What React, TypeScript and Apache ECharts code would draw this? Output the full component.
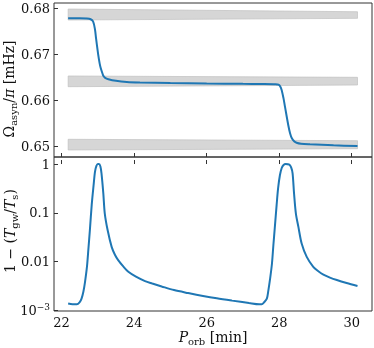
import React, { useEffect, useRef } from 'react';
import * as echarts from 'echarts';

// ---- data ----
const xTicks = [22, 24, 26, 28, 30];
const omegaTicks = [0.65, 0.66, 0.67, 0.68];
const ratioTicks = [0.001, 0.01, 0.1, 1];
const ratioTickLabels = ['{b|10}{sup|−3}', '0.01', '0.1', '1'];

// Omega_asyn / pi [mHz] vs P_orb [min]
const omegaP = [22.18, 22.5, 22.7, 22.8, 22.87, 22.92, 22.95, 23.01, 23.05, 23.08, 23.12, 23.15, 23.2, 23.29, 23.5, 23.8, 24.16, 25.0, 26.0, 27.0, 27.5, 27.9, 27.98, 28.03, 28.07, 28.12, 28.16, 28.25, 28.3, 28.35, 28.42, 28.48, 28.6, 28.85, 29.5, 30.16];
const omegaVal = [0.6779, 0.6779, 0.67785, 0.6777, 0.6772, 0.6755, 0.6735, 0.6699, 0.668, 0.667, 0.666, 0.66534, 0.6649, 0.6646, 0.66425, 0.664, 0.66389, 0.66375, 0.66365, 0.66358, 0.66355, 0.6635, 0.6634, 0.663, 0.6622, 0.6604, 0.6586, 0.6546, 0.6528, 0.6517, 0.651, 0.65072, 0.6505, 0.65037, 0.65015, 0.65];

// 1 - (T_gw / T_s) vs P_orb [min]
const ratioP = [22.18, 22.3, 22.42, 22.5, 22.55, 22.6, 22.645, 22.7, 22.74, 22.78, 22.83, 22.88, 22.92, 22.96, 23.0, 23.03, 23.07, 23.1, 23.15, 23.19, 23.27, 23.38, 23.47, 23.56, 23.7, 23.84, 24.05, 24.3, 24.5, 24.76, 25.1, 25.49, 25.9, 26.28, 26.7, 27.17, 27.45, 27.52, 27.58, 27.66, 27.7, 27.75, 27.8, 27.84, 27.88, 27.93, 27.97, 28.02, 28.07, 28.12, 28.18, 28.28, 28.33, 28.37, 28.41, 28.46, 28.53, 28.62, 28.76, 28.94, 29.08, 29.22, 29.4, 29.59, 29.86, 30.16];
const ratioVal = [0.00138, 0.00133, 0.00133, 0.00148, 0.00174, 0.0024, 0.0038, 0.00794, 0.0186, 0.0447, 0.145, 0.355, 0.692, 0.912, 1.0, 1.0, 0.891, 0.646, 0.251, 0.0977, 0.0437, 0.02, 0.0138, 0.0107, 0.00794, 0.00617, 0.0049, 0.00398, 0.00355, 0.00309, 0.0026, 0.00226, 0.00197, 0.00176, 0.00158, 0.00141, 0.00133, 0.00133, 0.00145, 0.00174, 0.00251, 0.00447, 0.0089, 0.0216, 0.0501, 0.145, 0.316, 0.589, 0.83, 0.955, 1.0, 0.977, 0.851, 0.646, 0.251, 0.0977, 0.0513, 0.0234, 0.01245, 0.00776, 0.00631, 0.00537, 0.00468, 0.00417, 0.00363, 0.00316];

// grey bands (start / end of each band)
const bandStart = 22.18;
const bandEnd = 30.16;
const bandLowStart = [0.67753, 0.66296, 0.64913];
const bandHighStart = [0.67993, 0.6653, 0.65147];
const bandLowEnd = [0.6779, 0.66333, 0.64941];
const bandHighEnd = [0.67934, 0.66501, 0.65116];

const FONT = 'DejaVu Serif';
const BLUE = '#1f77b4';
const FRAME = '#333';

export default function App() {
  const ref = useRef<HTMLDivElement>(null);
  useEffect(() => {
    if (!ref.current) return;
    const chart = echarts.init(ref.current, undefined, { renderer: 'svg' });

    const bandData = bandLowStart.map((_, i) => [bandStart, bandEnd, bandLowStart[i], bandHighStart[i], bandLowEnd[i], bandHighEnd[i]]);
    const ratioLogTicks = ratioTicks.map((v) => Math.log10(v));

    const tickStyle = { show: true, inside: true, length: 4, lineStyle: { color: FRAME, width: 1 } };
    const labelStyle = { fontFamily: FONT, fontSize: 13, color: '#111' };
    const nameRich = {
      m: { fontFamily: FONT, fontSize: 14, fill: '#111', lineHeight: 19 },
      i: { fontFamily: FONT, fontSize: 14, fontStyle: 'italic', fill: '#111', lineHeight: 19 },
      s: { fontFamily: FONT, fontSize: 10, fill: '#111', lineHeight: 11, verticalAlign: 'bottom' },
    };

    chart.setOption({
      animation: false,
      grid: [
        { left: 54, top: 3, width: 318, height: 154, show: true, borderColor: FRAME, borderWidth: 1, backgroundColor: 'transparent' },
        { left: 54, top: 157, width: 318, height: 154, show: true, borderColor: FRAME, borderWidth: 1, backgroundColor: 'transparent' },
      ],
      xAxis: [
        {
          gridIndex: 0, type: 'value', min: 21.79, max: 30.56,
          axisLine: { show: false }, splitLine: { show: false },
          axisTick: { ...tickStyle, customValues: xTicks },
          axisLabel: { show: false, customValues: xTicks },
        },
        {
          gridIndex: 1, type: 'value', min: 21.79, max: 30.56,
          axisLine: { show: false }, splitLine: { show: false },
          axisTick: { ...tickStyle, customValues: xTicks },
          axisLabel: { ...labelStyle, customValues: xTicks, margin: 5 },
        },
      ],
      yAxis: [
        {
          gridIndex: 0, type: 'value', min: 0.6476, max: 0.68125,
          axisLine: { show: false }, splitLine: { show: false },
          axisTick: { ...tickStyle, customValues: omegaTicks },
          axisLabel: { ...labelStyle, customValues: omegaTicks, margin: 4, formatter: (v: number) => v.toFixed(2) },
        },
        {
          gridIndex: 1, type: 'value', min: -3.014, max: 0.144,
          axisLine: { show: false }, splitLine: { show: false },
          axisTick: { ...tickStyle, customValues: ratioLogTicks },
          axisLabel: {
            ...labelStyle, customValues: ratioLogTicks, margin: 4,
            formatter: (v: number) => {
              const i = ratioLogTicks.findIndex((t) => Math.abs(t - v) < 1e-6);
              return i >= 0 ? ratioTickLabels[i] : '';
            },
            rich: {
              b: { fontFamily: FONT, fontSize: 13, color: '#111', lineHeight: 16 },
              sup: { fontFamily: FONT, fontSize: 9, color: '#111', lineHeight: 9, verticalAlign: 'top' },
            },
          },
        },
      ],
      series: [
        {
          type: 'custom', xAxisIndex: 0, yAxisIndex: 0, z: 1, clip: true,
          encode: { x: [0, 1], y: [2, 3, 4, 5] },
          data: bandData,
          renderItem: (params: any, api: any) => {
            const x0 = api.value(0), x1 = api.value(1);
            const a = api.coord([x0, api.value(2)]);
            const b = api.coord([x0, api.value(3)]);
            const c = api.coord([x1, api.value(5)]);
            const d = api.coord([x1, api.value(4)]);
            return {
              type: 'polygon',
              shape: { points: [a, b, c, d] },
              style: { fill: '#d6d6d6', stroke: '#c0c0c0', lineWidth: 0.7 },
            };
          },
        },
        {
          type: 'line', xAxisIndex: 0, yAxisIndex: 0, z: 3,
          data: omegaP.map((p, i) => [p, omegaVal[i]]),
          showSymbol: false, smooth: 0.3,
          lineStyle: { color: BLUE, width: 2 },
        },
        {
          type: 'line', xAxisIndex: 1, yAxisIndex: 1, z: 3,
          data: ratioP.map((p, i) => [p, Math.log10(ratioVal[i])]),
          showSymbol: false, smooth: 0.3,
          lineStyle: { color: BLUE, width: 2 },
        },
      ],
      graphic: [
        {
          type: 'text', x: 9, y: 89, rotation: Math.PI / 2,
          style: { text: '{m|Ω}{s|asyn}{m|/}{i|π}{m| [mHz]}', align: 'center', verticalAlign: 'middle', rich: nameRich },
        },
        {
          type: 'text', x: 10, y: 231, rotation: Math.PI / 2,
          style: { text: '{m|1 − (}{i|T}{s|gw}{m|/}{i|T}{s|s}{m|)}', align: 'center', verticalAlign: 'middle', rich: nameRich },
        },
        {
          type: 'text', x: 213, y: 337,
          style: { text: '{i|P}{s|orb}{m| [min]}', align: 'center', verticalAlign: 'middle', rich: nameRich },
        },
      ],
    });
    return () => chart.dispose();
  }, []);
  return <div ref={ref} style={{ position: 'fixed', left: 0, top: 0, width: 374, height: 348 }} />;
}
